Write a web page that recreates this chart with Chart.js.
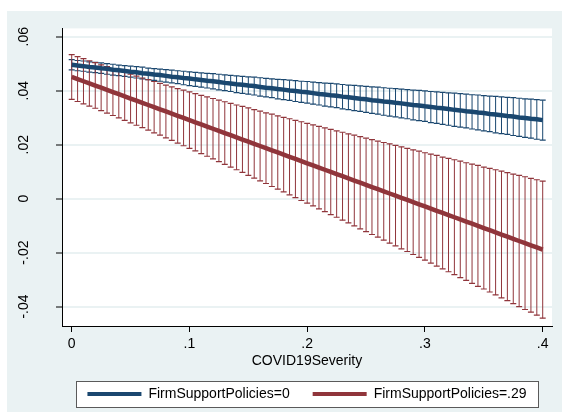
<!DOCTYPE html>
<html lang="en">
<head>
<meta charset="UTF-8" />
<title>Predictive margins</title>
<script src="https://cdn.jsdelivr.net/npm/chart.js"></script>
<style>
  html, body { margin: 0; padding: 0; background: #fff; }
  canvas { display: block; }
</style>
</head>
<body>
<canvas id="marginsChart" width="562" height="412"></canvas>

<script>
const covidSeverity = [
  0, .005, .01, .015, .02, .025, .03, .035, .04, .045,
  .05, .055, .06, .065, .07, .075, .08, .085, .09, .095,
  .1, .105, .11, .115, .12, .125, .13, .135, .14, .145,
  .15, .155, .16, .165, .17, .175, .18, .185, .19, .195,
  .2, .205, .21, .215, .22, .225, .23, .235, .24, .245,
  .25, .255, .26, .265, .27, .275, .28, .285, .29, .295,
  .3, .305, .31, .315, .32, .325, .33, .335, .34, .345,
  .35, .355, .36, .365, .37, .375, .38, .385, .39, .395,
  .4
];

// FirmSupportPolicies=0
const blueFit = [
  .0496, .0493, .0491, .0488, .0486, .0483, .0481, .0478, .0476, .0473,
  .0470, .0468, .0465, .0463, .0460, .0458, .0455, .0452, .0450, .0447,
  .0445, .0442, .0440, .0437, .0435, .0432, .0429, .0427, .0424, .0422,
  .0419, .0417, .0414, .0411, .0409, .0406, .0404, .0401, .0399, .0396,
  .0394, .0391, .0388, .0386, .0383, .0381, .0378, .0376, .0373, .0370,
  .0368, .0365, .0363, .0360, .0358, .0355, .0353, .0350, .0347, .0345,
  .0342, .0340, .0337, .0335, .0332, .0329, .0327, .0324, .0322, .0319,
  .0317, .0314, .0312, .0309, .0306, .0304, .0301, .0299, .0296, .0294,
  .0291
];
const blueLo = [
  .0477, .0474, .0472, .0469, .0467, .0464, .0461, .0458, .0456, .0453,
  .0450, .0447, .0444, .0441, .0438, .0435, .0432, .0429, .0426, .0422,
  .0419, .0416, .0413, .0410, .0407, .0403, .0400, .0397, .0393, .0390,
  .0387, .0384, .0380, .0377, .0374, .0370, .0367, .0364, .0360, .0357,
  .0354, .0350, .0347, .0343, .0340, .0337, .0333, .0330, .0326, .0323,
  .0320, .0316, .0313, .0309, .0306, .0303, .0299, .0296, .0292, .0289,
  .0286, .0282, .0279, .0275, .0272, .0268, .0265, .0262, .0258, .0255,
  .0251, .0248, .0244, .0241, .0238, .0234, .0231, .0227, .0224, .0220,
  .0217
];
const blueHi = [
  .0515, .0512, .0510, .0507, .0505, .0503, .0500, .0498, .0495, .0493,
  .0491, .0489, .0487, .0484, .0482, .0480, .0478, .0476, .0474, .0472,
  .0470, .0468, .0466, .0464, .0463, .0461, .0459, .0457, .0455, .0453,
  .0451, .0450, .0448, .0446, .0444, .0442, .0441, .0439, .0437, .0435,
  .0434, .0432, .0430, .0428, .0427, .0425, .0423, .0421, .0420, .0418,
  .0416, .0414, .0413, .0411, .0409, .0408, .0406, .0404, .0402, .0401,
  .0399, .0397, .0396, .0394, .0392, .0391, .0389, .0387, .0385, .0384,
  .0382, .0380, .0379, .0377, .0375, .0374, .0372, .0370, .0369, .0367,
  .0365
];

// FirmSupportPolicies=.29
const redFit = [
  .0451, .0443, .0435, .0427, .0419, .0411, .0403, .0395, .0387, .0379,
  .0371, .0363, .0355, .0347, .0339, .0331, .0323, .0315, .0307, .0299,
  .0291, .0283, .0275, .0267, .0259, .0251, .0243, .0235, .0227, .0219,
  .0211, .0203, .0195, .0187, .0179, .0171, .0163, .0155, .0147, .0139,
  .0131, .0123, .0115, .0107, .0099, .0091, .0083, .0075, .0067, .0059,
  .0051, .0043, .0035, .0027, .0019, .0011, .0003, -.0005, -.0013, -.0021,
  -.0029, -.0037, -.0045, -.0053, -.0061, -.0069, -.0077, -.0085, -.0093, -.0101,
  -.0109, -.0117, -.0125, -.0133, -.0141, -.0149, -.0157, -.0165, -.0173, -.0181,
  -.0189
];
const redLo = [
  .0368, .0360, .0351, .0343, .0335, .0326, .0317, .0308, .0299, .0290,
  .0281, .0272, .0263, .0254, .0244, .0235, .0225, .0216, .0206, .0196,
  .0186, .0177, .0167, .0157, .0147, .0137, .0127, .0117, .0107, .0097,
  .0086, .0076, .0066, .0056, .0045, .0035, .0025, .0014, .0004, -.0007,
  -.0017, -.0027, -.0038, -.0048, -.0059, -.0069, -.0080, -.0090, -.0101, -.0112,
  -.0122, -.0133, -.0143, -.0154, -.0165, -.0175, -.0186, -.0196, -.0207, -.0218,
  -.0228, -.0239, -.0250, -.0260, -.0271, -.0282, -.0293, -.0303, -.0314, -.0325,
  -.0335, -.0346, -.0357, -.0368, -.0378, -.0389, -.0400, -.0411, -.0421, -.0432,
  -.0443
];
const redHi = [
  .0534, .0526, .0519, .0511, .0504, .0496, .0489, .0482, .0475, .0468,
  .0461, .0454, .0447, .0441, .0434, .0427, .0421, .0414, .0408, .0402,
  .0396, .0389, .0383, .0377, .0371, .0365, .0359, .0353, .0347, .0342,
  .0336, .0330, .0324, .0318, .0313, .0307, .0301, .0296, .0290, .0285,
  .0279, .0273, .0268, .0262, .0257, .0251, .0246, .0240, .0235, .0230,
  .0224, .0219, .0213, .0208, .0203, .0197, .0192, .0186, .0181, .0176,
  .0170, .0165, .0160, .0154, .0149, .0144, .0139, .0133, .0128, .0123,
  .0117, .0112, .0107, .0102, .0096, .0091, .0086, .0081, .0075, .0070,
  .0065
];

const xTicks = [0, .1, .2, .3, .4];
const xTickLabels = ['0', '.1', '.2', '.3', '.4'];
const yTicks = [-.04, -.02, 0, .02, .04, .06];
const yTickLabels = ['-.04', '-.02', '0', '.02', '.04', '.06'];
const xTitle = 'COVID19Severity';
const seriesNames = ['FirmSupportPolicies=0', 'FirmSupportPolicies=.29'];

const navy = '#1A476F';
const maroon = '#90353B';
const graphBg = '#EAF2F3';
const font = { family: '"Liberation Sans", Arial, Helvetica, sans-serif', size: 14 };

function spikes(lo, hi, color, order) {
  return {
    type: 'bar',
    data: covidSeverity.map((x, i) => ({ x, y: [lo[i], hi[i]] })),
    backgroundColor: color,
    borderWidth: 0,
    barThickness: 1,
    inflateAmount: 0,
    grouped: false,
    order
  };
}

function caps(lo, hi, color, order) {
  return {
    type: 'line',
    showLine: false,
    data: covidSeverity.flatMap((x, i) => [{ x, y: lo[i] }, { x, y: hi[i] }]),
    pointStyle: 'line',
    pointRadius: 3,
    pointHoverRadius: 3,
    pointBorderWidth: 1.2,
    pointBorderColor: color,
    borderColor: color,
    order
  };
}

function fitLine(fit, color, order) {
  return {
    type: 'line',
    data: covidSeverity.map((x, i) => ({ x, y: fit[i] })),
    borderColor: color,
    borderWidth: 4.5,
    pointRadius: 0,
    fill: false,
    tension: 0,
    order
  };
}

// graph region, plot region and the boxed legend, Stata style
const stataFrame = {
  id: 'stataFrame',
  beforeDraw(chart) {
    const { ctx, chartArea: a, legend } = chart;
    ctx.save();
    ctx.fillStyle = '#fff';
    ctx.fillRect(0, 0, chart.width, chart.height);
    ctx.fillStyle = graphBg;
    ctx.fillRect(7, 11, chart.width - 7, chart.height - 11);
    ctx.fillStyle = '#fff';
    ctx.fillRect(a.left, a.top, a.right - a.left, a.bottom - a.top);
    const hb = legend && legend.legendHitBoxes;
    if (hb && hb.length) {
      const first = hb[0], last = hb[hb.length - 1];
      const cy = first.top + first.height / 2;
      const x0 = Math.round(first.left - 11) + .5;
      const x1 = Math.round(last.left + last.width + 11) + .5;
      const y0 = Math.round(cy - 13) + .5;
      ctx.fillRect(x0, y0, x1 - x0, 26);
      ctx.strokeStyle = '#5a5a5a';
      ctx.lineWidth = 1;
      ctx.strokeRect(x0, y0, x1 - x0, 26);
    }
    ctx.restore();
  }
};

new Chart(document.getElementById('marginsChart'), {
  type: 'line',
  data: {
    datasets: [
      spikes(blueLo, blueHi, navy, 5),
      caps(blueLo, blueHi, navy, 4),
      spikes(redLo, redHi, maroon, 3),
      caps(redLo, redHi, maroon, 2),
      fitLine(blueFit, navy, 1),
      fitLine(redFit, maroon, 0)
    ]
  },
  options: {
    responsive: false,
    animation: false,
    events: [],
    devicePixelRatio: 1,
    layout: { autoPadding: false, padding: { top: 26, left: 7, right: 10, bottom: 1 } },
    plugins: {
      tooltip: { enabled: false },
      legend: {
        position: 'bottom',
        fullSize: false,
        align: 'center',
        labels: {
          boxWidth: 54,
          boxHeight: 4,
          padding: 23,
          color: '#000',
          font,
          generateLabels: () => seriesNames.map((text, k) => ({
            text,
            fillStyle: k ? maroon : navy,
            strokeStyle: k ? maroon : navy,
            lineWidth: 0,
            hidden: false,
            datasetIndex: 4 + k
          }))
        }
      }
    },
    scales: {
      x: {
        type: 'linear',
        min: -0.00824,
        max: 0.4079,
        offset: false,
        afterBuildTicks: s => { s.ticks = xTicks.map(v => ({ value: v })); },
        afterFit: s => { s.height = 38; },
        grid: { display: true, drawOnChartArea: false, drawTicks: true, tickLength: 6, tickColor: '#000', tickWidth: 1, offset: false },
        border: { display: true, color: '#000', width: 1 },
        ticks: { padding: 4, color: '#000', font, maxRotation: 0, autoSkip: false, callback: (v, i) => xTickLabels[i] },
        title: { display: true, text: xTitle, color: '#000', font, padding: { top: 0, bottom: -6 } }
      },
      y: {
        type: 'linear',
        min: -0.047206,
        max: 0.063088,
        afterBuildTicks: s => { s.ticks = yTicks.map(v => ({ value: v })); },
        afterFit: s => { s.width = 55; },
        grid: { color: graphBg, lineWidth: 2, tickColor: '#000', tickLength: 6, tickWidth: 1 },
        border: { display: true, color: '#000', width: 1 },
        ticks: { minRotation: 90, maxRotation: 90, crossAlign: 'center', padding: 20, color: '#000', font, autoSkip: false, callback: (v, i) => yTickLabels[i] }
      }
    }
  },
  plugins: [stataFrame]
});
</script>
</body>
</html>
